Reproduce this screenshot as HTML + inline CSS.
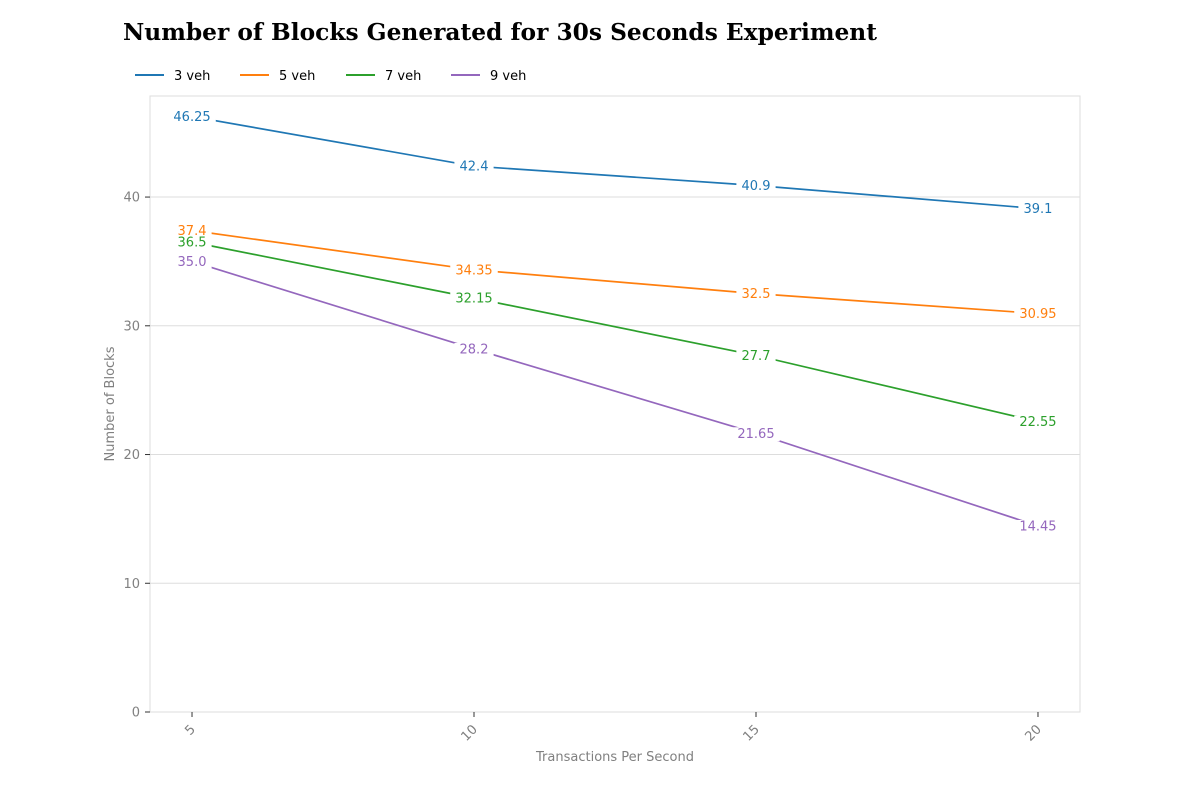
<!DOCTYPE html>
<html><head><meta charset="utf-8">
<style>
body{margin:0;background:#fff;}
svg{display:block;}
text{font-family:"DejaVu Sans","Liberation Sans",sans-serif;}
</style></head>
<body>
<svg id="chart" width="1200" height="800">
<text x="123" y="40" font-weight="bold" font-size="23.3" style="font-family:'DejaVu Serif','Liberation Serif',serif">Number of Blocks Generated for 30s Seconds Experiment</text>
<g id="legend"></g>
<rect x="150" y="96" width="930" height="616" fill="none" stroke="#dddddd"/>
<g id="grid"></g>
<g id="axes"></g>
<g id="series"></g>
<text x="615" y="761" text-anchor="middle" font-size="13" fill="#808080">Transactions Per Second</text>
<text transform="translate(114,404) rotate(-90)" text-anchor="middle" font-size="13" fill="#808080">Number of Blocks</text>
</svg>
<script>
const categories = [5, 10, 15, 20];
const seriesNames = ["3 veh", "5 veh", "7 veh", "9 veh"];
const s3 = [46.25, 42.4, 40.9, 39.1];
const s5 = [37.4, 34.35, 32.5, 30.95];
const s7 = [36.5, 32.15, 27.7, 22.55];
const s9 = [35.0, 28.2, 21.65, 14.45];
const yTicks = [0, 10, 20, 30, 40];
const colors = ["#1f77b4", "#ff7f0e", "#2ca02c", "#9467bd"];
const allSeries = [s3, s5, s7, s9];

const NS = "http://www.w3.org/2000/svg";
const L = 150, R = 1080, T = 96, B = 712;
const xMin = 4.255, xMax = 20.745, yMin = 0, yMax = 47.85;
const xs = v => L + (v - xMin) / (xMax - xMin) * (R - L);
const ys = v => B - (v - yMin) / (yMax - yMin) * (B - T);
function mk(tag, attrs, parent){const e=document.createElementNS(NS,tag);for(const k in attrs)e.setAttribute(k,attrs[k]);parent.appendChild(e);return e;}

const grid = document.getElementById('grid');
const axes = document.getElementById('axes');
yTicks.forEach(t => {
  const y = ys(t);
  if (t > 0) {
    const g = mk('line',{x1:L,x2:R,y1:y,y2:y,stroke:'#dddddd'},grid);
    
    
  }
  mk('line',{x1:L-5,x2:L,y1:y,y2:y,stroke:'#333'},axes);
  const tx = mk('text',{x:L-10,y:y+4.5,'text-anchor':'end','font-size':13,fill:'#808080'},axes);
  tx.textContent = t;
  
  
});
categories.forEach(c => {
  const x = xs(c);
  mk('line',{x1:x,x2:x,y1:B,y2:B+5,stroke:'#333'},axes);
  const tx = mk('text',{transform:`translate(${x+4},${B+18}) rotate(-45)`,'text-anchor':'end','font-size':13,fill:'#808080'},axes);
  tx.textContent = c;
  
  
});

const sg = document.getElementById('series');
allSeries.forEach((s, i) => {
  const pts = s.map((v,j)=>xs(categories[j])+','+ys(v)).join(' ');
  const pl = mk('polyline',{points:pts,fill:'none',stroke:colors[i],'stroke-width':1.7},sg);
  
  
});
const lg = mk('g',{},sg);
allSeries.forEach((s, i) => {
  s.forEach((v,j) => {
    const x = xs(categories[j]), y = ys(v);
    const txt = String(v % 1 === 0 ? v.toFixed(1) : v);
    const w = txt.length * 8.3 + 6;
    mk('rect',{x:x-w/2,y:y-6,width:w,height:14,fill:'#fff'},lg);
  });
});
allSeries.forEach((s, i) => {
  s.forEach((v,j) => {
    const x = xs(categories[j]), y = ys(v);
    const txt = String(v % 1 === 0 ? v.toFixed(1) : v);
    const t = mk('text',{x:x,y:y+4.5,'text-anchor':'middle','font-size':13,fill:colors[i]},lg);
    t.textContent = txt;
    
    
  });
});

const leg = document.getElementById('legend');
const legX = [135, 240, 346, 451];
seriesNames.forEach((n,i) => {
  const g = mk('g',{},leg);
  
  
  mk('line',{x1:legX[i],x2:legX[i]+29,y1:75,y2:75,stroke:colors[i],'stroke-width':2},g);
  const t = mk('text',{x:legX[i]+39,y:80,'font-size':13,fill:'#000'},g);
  t.textContent = n;
});
</script>
</body></html>
